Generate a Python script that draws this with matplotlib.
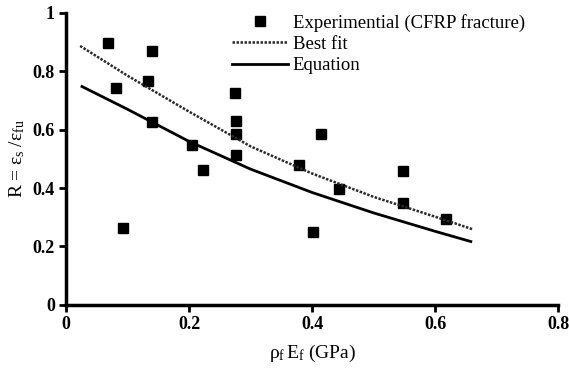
import matplotlib
matplotlib.use('Agg')
import matplotlib.pyplot as plt

# --- DATA ---
exp_x = [0.069, 0.081, 0.092, 0.133, 0.139, 0.140, 0.204, 0.222, 0.275, 0.276,
         0.276, 0.276, 0.379, 0.401, 0.414, 0.444, 0.548, 0.548, 0.618]
exp_y = [0.898, 0.743, 0.265, 0.768, 0.871, 0.626, 0.548, 0.463, 0.727, 0.631,
         0.585, 0.515, 0.479, 0.251, 0.587, 0.396, 0.457, 0.350, 0.293]

# curves read at a few x positions
fit_x = [0.023, 0.1, 0.2, 0.3, 0.4, 0.5, 0.6, 0.661]
fit_y = [0.887, 0.785, 0.662, 0.543, 0.450, 0.370, 0.302, 0.259]

eq_x = [0.026, 0.1, 0.2, 0.3, 0.4, 0.5, 0.6, 0.658]
eq_y = [0.748, 0.670, 0.560, 0.465, 0.385, 0.315, 0.252, 0.217]

xticks = [0, 0.2, 0.4, 0.6, 0.8]
yticks = [0, 0.2, 0.4, 0.6, 0.8, 1]

plt.rcParams['font.family'] = ['Liberation Serif', 'DejaVu Serif']
plt.rcParams['mathtext.fontset'] = 'custom'
plt.rcParams['mathtext.rm'] = 'Liberation Serif'
plt.rcParams['mathtext.it'] = 'Liberation Serif'

fig = plt.figure(figsize=(5.69, 3.70), dpi=100)
ax = fig.add_axes([0.116, 0.176, 0.865, 0.789])

ax.plot(exp_x, exp_y, 's', color='black', ms=7, ls='none',
        label='Experimential (CFRP fracture)')
ax.plot(fit_x, fit_y, color='#2a2a2a', lw=1.8, ls=(0, (1.0, 0.6)), label='Best fit')
ax.plot(eq_x, eq_y, color='black', lw=2, label='Equation')

ax.set_xlim(0, 0.8)
ax.set_ylim(0, 1)
ax.set_xticks(xticks)
ax.set_yticks(yticks)
ax.set_xticklabels(['0' if t == 0 else f'{t:g}' for t in xticks], fontweight='bold')
ax.set_yticklabels(['0' if t == 0 else f'{t:g}' for t in yticks], fontweight='bold')
ax.tick_params(labelsize=13, width=2, length=5, direction='out', pad=3)

for s in ['top', 'right']:
    ax.spines[s].set_visible(False)
for s in ['left', 'bottom']:
    ax.spines[s].set_linewidth(2.5)

ax.set_ylabel(r'R = $\varepsilon_{\rm s}\;/\varepsilon_{\rm fu}$', fontsize=14, labelpad=4)
ax.set_xlabel(r'$\rho_{\rm f}\,$E$_{\rm f}$ (GPa)', fontsize=14, labelpad=7)

leg = ax.legend(loc='upper left', bbox_to_anchor=(0.337, 0.997), frameon=False,
                fontsize=13.5, handlelength=3.0, handletextpad=0.25,
                labelspacing=0.22, borderpad=0, borderaxespad=0)

fig.savefig('out.png', dpi=100)
